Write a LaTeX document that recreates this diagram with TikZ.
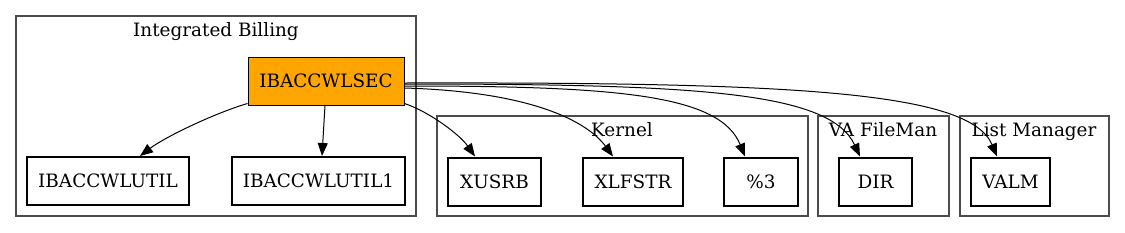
\documentclass[tikz,border=0pt]{standalone}
\usepackage{fontspec}
\setmainfont{DejaVu Serif}
\usetikzlibrary{arrows.meta}
\begin{document}
\begin{tikzpicture}[x=0.5pt,y=-0.5pt,
  txt/.style={font=\fontsize{9.2}{11}\selectfont},
  cluster/.style={draw=black!70, line width=0.6pt},
  clabel/.style={txt, inner sep=0pt, anchor=base},
  mod/.style={txt, draw=black, line width=1pt, inner sep=0pt, minimum height=24pt},
  srcbox/.style={txt, draw=black, line width=0.5pt, fill={rgb,255:red,255;green,165;blue,0}, inner sep=0pt, minimum height=24pt},
  edge/.style={-{Triangle[length=6.5pt,width=5pt]}, line width=0.5pt}
]
\useasboundingbox[fill=white] (0,0) rectangle (1125,232);
% clusters
\draw[cluster] (16,16) rectangle (416,216);
\draw[cluster] (437,116) rectangle (808,216);
\draw[cluster] (818,116) rectangle (949,216);
\draw[cluster] (960,116) rectangle (1109,216);
\node[clabel] (lib) at (216,36) {Integrated Billing};
\node[clabel] (lker) at (622,136) {Kernel};
\node[clabel] (lfm) at (883,136) {VA FileMan};
\node[clabel] (llm) at (1034,136) {List Manager};
% nodes
\node[srcbox, minimum width=78pt] (src) at (326,81) {IBACCWLSEC};
\node[mod, minimum width=81pt] (ul) at (108,181) {IBACCWLUTIL};
\node[mod, minimum width=86.5pt] (ul1) at (318.5,181) {IBACCWLUTIL1};
\node[mod, minimum width=46.5pt] (xusrb) at (494.5,181.5) {XUSRB};
\node[mod, minimum width=50pt] (xlfstr) at (633,181.5) {XLFSTR};
\node[mod, minimum width=37pt] (p3) at (761,181.5) {\%3};
\node[mod, minimum width=36.5pt] (dir) at (875.5,181.5) {DIR};
\node[mod, minimum width=39.5pt] (valm) at (1010.5,181.5) {VALM};
% edges
\draw[edge] ([yshift=1pt]src.south west) .. controls (215,113) and (165,137) .. ([xshift=16pt]ul.north);
\draw[edge] ([xshift=-0.5pt]src.south) -- ([xshift=1.75pt]ul1.north);
\draw[edge] ([yshift=1pt]src.south east) .. controls (430,112) and (460,135) .. ([xshift=-9.75pt]xusrb.north);
\draw[edge] ([yshift=-3.5pt]src.east) .. controls (540,92) and (590,125) .. ([xshift=-10pt]xlfstr.north);
\draw[edge] ([yshift=-2.5pt]src.east) .. controls (620,86) and (720,95) .. ([xshift=-8pt]p3.north);
\draw[edge] ([yshift=-1.5pt]src.east) .. controls (700,84) and (830,92) .. ([xshift=-7.75pt]dir.north);
\draw[edge] ([yshift=-1pt]src.east) .. controls (800,82) and (970,92) .. ([xshift=-6.75pt]valm.north);
\end{tikzpicture}
\end{document}
